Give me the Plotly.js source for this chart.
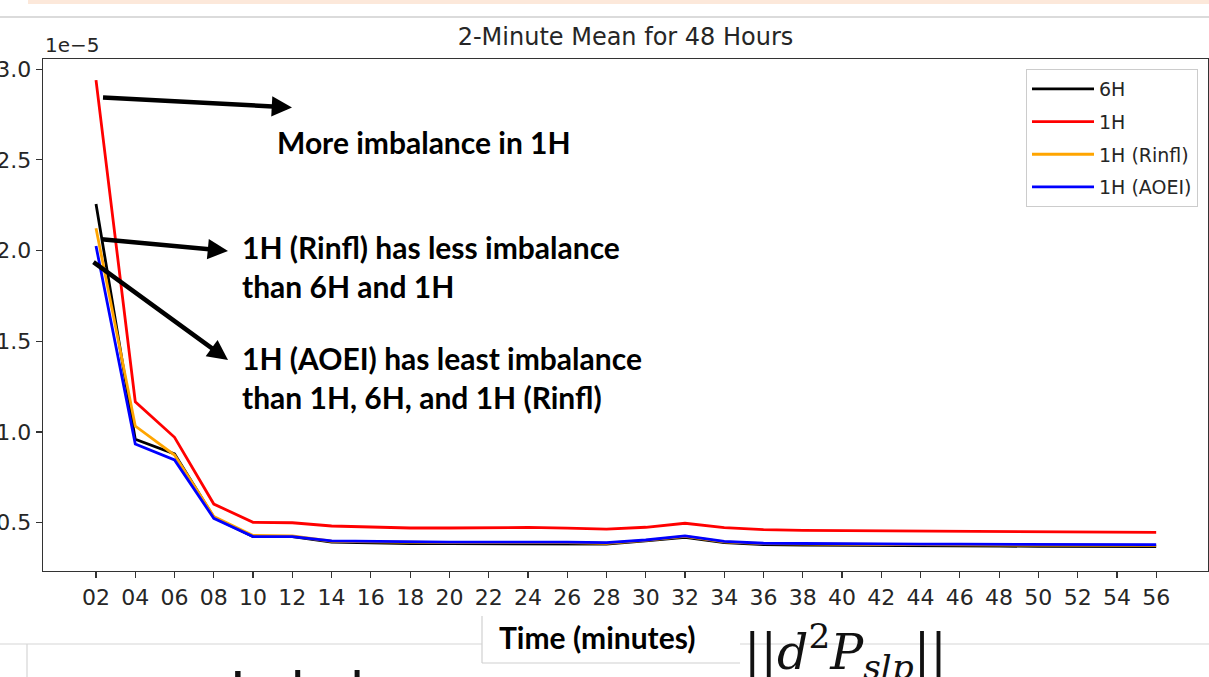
<!DOCTYPE html>
<html>
<head>
<meta charset="utf-8">
<script src="https://cdn.plot.ly/plotly-3.0.1.min.js"></script>
<style>html,body{margin:0;padding:0;background:#fff;}#chart{width:1209px;height:677px;}</style>
</head>
<body>
<div id="chart"></div>
<script>
// ---- data (values in units of 1e-5) ----
const times = ['02','04','06','08','10','12','14','16','18','20','22','24','26','28','30','32','34','36','38','40','42','44','46','48','50','52','54','56'];
const seriesNames = ['6H','1H','1H (Rinfl)','1H (AOEI)'];
const seriesColors = ['#000000','#ff0000','#ffa500','#0000ff'];
const vals6H    = [2.257,0.960,0.879,0.530,0.424,0.424,0.393,0.388,0.385,0.385,0.385,0.385,0.384,0.382,0.400,0.420,0.390,0.380,0.377,0.375,0.374,0.373,0.372,0.371,0.370,0.370,0.369,0.368];
const vals1H    = [2.940,1.167,0.971,0.603,0.502,0.500,0.482,0.476,0.471,0.471,0.473,0.474,0.470,0.465,0.475,0.497,0.473,0.462,0.458,0.457,0.456,0.455,0.453,0.452,0.451,0.450,0.448,0.447];
const valsRinfl = [2.123,1.033,0.873,0.535,0.430,0.428,0.398,0.394,0.391,0.390,0.390,0.391,0.390,0.387,0.403,0.425,0.394,0.385,0.382,0.381,0.380,0.379,0.378,0.378,0.377,0.376,0.376,0.375];
const valsAOEI  = [2.025,0.934,0.846,0.524,0.424,0.424,0.400,0.397,0.394,0.393,0.393,0.394,0.393,0.390,0.405,0.427,0.397,0.387,0.385,0.384,0.383,0.382,0.382,0.381,0.380,0.380,0.379,0.379];
const yTickVals = [0.5,1.0,1.5,2.0,2.5,3.0];
const yTickText = ['0.5','1.0','1.5','2.0','2.5','3.0'];
const offsetLabel = '1e\u22125';
const titleText = '2-Minute Mean for 48 Hours';
const xTitleText = 'Time (minutes)';
const notes = [
  'More imbalance in 1H',
  '1H (Rinfl) has less imbalance<br>than 6H and 1H',
  '1H (AOEI) has least imbalance<br>than 1H, 6H, and 1H (Rinfl)'
];

// ---- geometry helpers (pixel -> paper) ----
const W = 1209, H = 677;
const L = 43, R = 1208, T = 59, B = 571;
const px = x => (x - L) / (R - L);
const py = y => (B - y) / (B - T);

const allVals = [vals6H, vals1H, valsRinfl, valsAOEI];
const traces = allVals.map((v, i) => ({
  type: 'scatter', mode: 'lines', x: times, y: v, name: seriesNames[i],
  line: {color: seriesColors[i], width: 2.8}, legendgroup: 'g' + i
}));

const tickFont = {family: 'DejaVu Sans', size: 22, color: '#262626'};
const boldFont = {family: 'Lato', size: 30, color: '#000', weight: 'bold'};

function arrow(tipX, tipY, tailX, tailY) {
  return {xref: 'paper', yref: 'paper', x: px(tipX), y: py(tipY), text: '',
    showarrow: true, arrowhead: 2, arrowsize: 0.9, arrowwidth: 4.5, arrowcolor: '#000',
    ax: tailX - tipX, ay: tailY - tipY, axref: 'pixel', ayref: 'pixel', standoff: 0};
}

const annotations = [
  {xref: 'paper', yref: 'paper', x: 0, y: py(45), xanchor: 'left', yanchor: 'middle',
   text: offsetLabel, showarrow: false, font: {family: 'DejaVu Sans', size: 20, color: '#262626'}},
  {xref: 'paper', yref: 'paper', x: px(275), y: py(142), xanchor: 'left', yanchor: 'middle',
   text: notes[0], showarrow: false, font: boldFont, align: 'left'},
  {xref: 'paper', yref: 'paper', x: px(240), y: py(266), xanchor: 'left', yanchor: 'middle',
   text: notes[1], showarrow: false, font: boldFont, align: 'left'},
  {xref: 'paper', yref: 'paper', x: px(240), y: py(377), xanchor: 'left', yanchor: 'middle',
   text: notes[2], showarrow: false, font: boldFont, align: 'left'},
  arrow(292, 107.5, 101.5, 97.5),
  arrow(228, 251, 100, 239),
  arrow(228, 360, 92, 261),
  {xref: 'paper', yref: 'paper', x: px(597), y: py(637), xanchor: 'center', yanchor: 'middle',
   text: xTitleText, showarrow: false, font: {family: 'Lato', size: 30, color: '#000', weight: 'bold'}},
  {xref: 'paper', yref: 'paper', x: px(742), y: py(614), xanchor: 'left', yanchor: 'top',
   text: '||<i>d</i><sup>2</sup><i>P</i><sub><i>slp</i></sub>||', showarrow: false,
   font: {family: 'DejaVu Serif', size: 49, color: '#111'}},
  {xref: 'paper', yref: 'paper', x: px(228), y: py(654), xanchor: 'left', yanchor: 'top',
   text: 'Imbalance measure', showarrow: false, font: {family: 'Lato', size: 56, color: '#111'}}
];

const shapes = [
  {type: 'rect', xref: 'paper', yref: 'paper', x0: px(28), x1: px(1209), y0: py(0), y1: py(4),
   fillcolor: '#fce8da', line: {width: 0}},
  {type: 'line', xref: 'paper', yref: 'paper', x0: px(0), x1: px(1209), y0: py(17), y1: py(17),
   line: {color: '#cfcfcf', width: 1.5}},
  {type: 'line', xref: 'paper', yref: 'paper', x0: px(0), x1: px(1209), y0: py(644), y1: py(644),
   line: {color: '#d6d6d6', width: 1.2}},
  {type: 'line', xref: 'paper', yref: 'paper', x0: px(27), x1: px(27), y0: py(644), y1: py(677),
   line: {color: '#d6d6d6', width: 1.2}},
  {type: 'rect', xref: 'paper', yref: 'paper', x0: px(482), x1: px(740), y0: py(616), y1: py(663),
   fillcolor: '#ffffff', line: {width: 0}},
  {type: 'line', xref: 'paper', yref: 'paper', x0: px(482), x1: px(482), y0: py(616), y1: py(663),
   line: {color: '#d0d0d0', width: 1.2}},
  {type: 'line', xref: 'paper', yref: 'paper', x0: px(482), x1: px(740), y0: py(663), y1: py(663),
   line: {color: '#d0d0d0', width: 1.2}}
];

const layout = {
  width: W, height: H,
  margin: {l: L, r: W - R, t: T, b: H - B, pad: 0},
  paper_bgcolor: '#ffffff', plot_bgcolor: '#ffffff',
  title: {text: titleText, x: 0.5, xref: 'paper', y: 1 - 37 / H, yref: 'container',
          xanchor: 'center', yanchor: 'middle', font: {family: 'DejaVu Sans', size: 24, color: '#262626'}},
  xaxis: {type: 'category', categoryarray: times, categoryorder: 'array',
          range: [-1.35, 28.32], showline: true, mirror: true, linecolor: '#333', linewidth: 1.3,
          ticks: 'outside', ticklen: 6, tickwidth: 1.2, tickcolor: '#333', tickfont: tickFont,
          showgrid: false, zeroline: false, fixedrange: true},
  yaxis: {range: [0.234, 3.056], tickvals: yTickVals, ticktext: yTickText,
          showline: true, mirror: true, linecolor: '#333', linewidth: 1.3,
          ticks: 'outside', ticklen: 6, tickwidth: 1.2, tickcolor: '#333', tickfont: tickFont,
          showgrid: false, zeroline: false, fixedrange: true},
  legend: {x: px(1198), y: py(69), xanchor: 'right', yanchor: 'top', bgcolor: '#ffffff',
           bordercolor: '#cccccc', borderwidth: 1, tracegroupgap: 5, itemwidth: 62,
           font: {family: 'DejaVu Sans', size: 19, color: '#262626'}},
  showlegend: true,
  annotations: annotations,
  shapes: shapes
};

Plotly.newPlot('chart', traces, layout, {displayModeBar: false, staticPlot: true});
</script>
</body>
</html>
